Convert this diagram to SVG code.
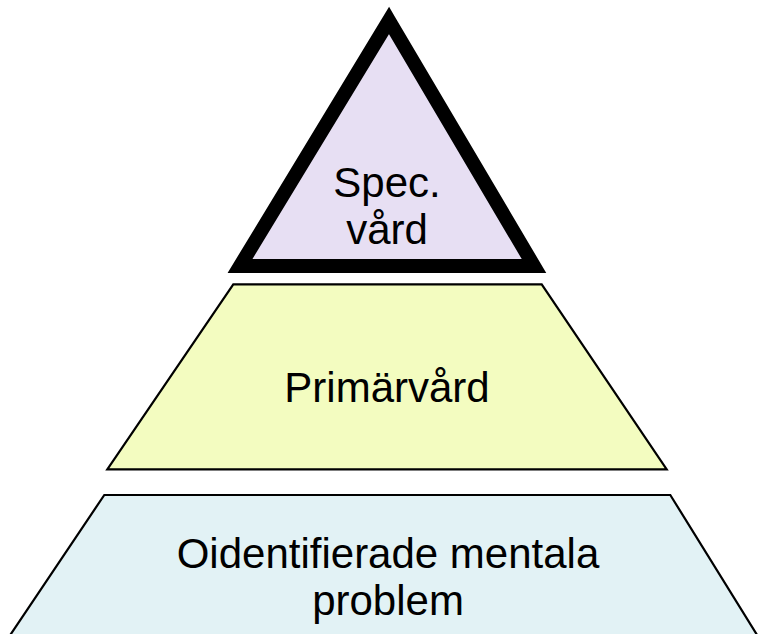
<svg xmlns="http://www.w3.org/2000/svg" width="762" height="634" viewBox="0 0 762 634">
  <style>
    .lbl { font-family: "Liberation Sans", Arial, sans-serif; font-size: 42px; fill: #000; text-anchor: middle; }
    .thin { stroke: #000; stroke-width: 2.2; stroke-linejoin: miter; }
  </style>
  <rect width="762" height="634" fill="#fff"/>
  <g id="base-level">
    <polygon class="thin" points="104.3,495 670.3,495 785,680 -20,680" fill="#E2F2F5"/>
    <text class="lbl" x="388" y="567.5">Oidentifierade mentala</text>
    <text class="lbl" x="388" y="615">problem</text>
  </g>
  <g id="middle-level">
    <polygon class="thin" points="233.3,284.3 541.7,284.3 666.7,469.3 107.3,469.3" fill="#F3FCC0"/>
    <text class="lbl" x="387" y="402.3">Primärvård</text>
  </g>
  <g id="top-level">
    <polygon points="389,20.5 534,266 240,266" fill="#E7DFF3" stroke="#000" stroke-width="14" stroke-linejoin="miter" stroke-miterlimit="10"/>
    <text class="lbl" x="387" y="196.7">Spec.</text>
    <text class="lbl" x="387" y="244.3">vård</text>
  </g>
  <g id="connectors"/>
</svg>
